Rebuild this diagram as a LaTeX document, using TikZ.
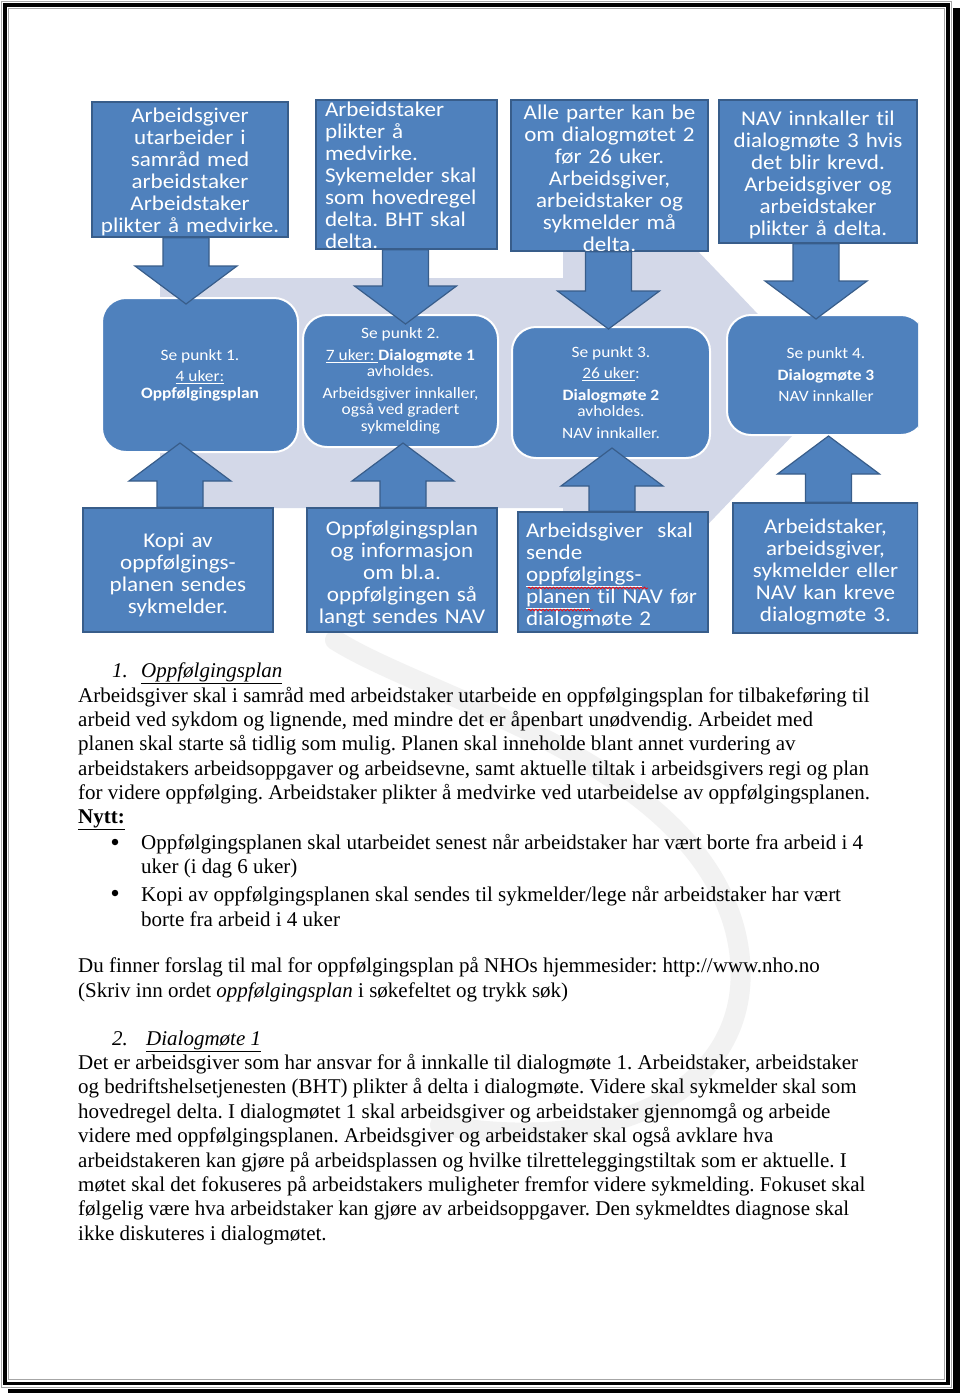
\documentclass[tikz,border=0pt]{standalone}
\usepackage{fontspec}
\setmainfont{Liberation Serif}
\newfontfamily\boxfont[FakeStretch=1.1, Ligatures=NoCommon]{Carlito}
\usetikzlibrary{calc,decorations.pathmorphing}
\definecolor{boxblue}{RGB}{79,129,189}
\definecolor{boxedge}{RGB}{56,93,138}
\definecolor{chevgray}{RGB}{211,216,232}
\frenchspacing
\newcommand\blkdown[2]{%
  \filldraw[blockarr] let \p1=(#1), \p2=(#2) in
    (\x2-23pt,\y1) -- (\x2+23pt,\y1) -- (\x2+23pt,\y2+38pt) -- (\x2+51pt,\y2+38pt)
    -- (\x2,\y2) -- (\x2-51pt,\y2+38pt) -- (\x2-23pt,\y2+38pt) -- cycle;}
\newcommand\blkup[2]{%
  \filldraw[blockarr] let \p1=(#1), \p2=(#2) in
    (\x2-23pt,\y1) -- (\x2+23pt,\y1) -- (\x2+23pt,\y2-38pt) -- (\x2+51pt,\y2-38pt)
    -- (\x2,\y2) -- (\x2-51pt,\y2-38pt) -- (\x2-23pt,\y2-38pt) -- cycle;}
\begin{document}
\begin{tikzpicture}[x=1pt,y=-1pt,
  bigtxt/.style={font=\boxfont\fontsize{21}{22}\selectfont, text=white, inner sep=0pt, align=center},
  midtxt/.style={font=\boxfont\fontsize{15.8}{16.5}\selectfont, text=white},
  sqbox/.style={draw=boxedge, line width=1.5pt, fill=boxblue, inner sep=0pt},
  rbox/.style={draw=white, line width=2pt, fill=boxblue, rounded corners=24pt, inner sep=0pt, align=center},
  blockarr/.style={fill=boxblue, draw=boxedge, line width=1.2pt, line join=miter},
  body/.style={font=\fontsize{21}{24.4}\selectfont, inner sep=0pt, anchor=west, align=left},
  bodyline/.style={font=\fontsize{21}{24.4}\selectfont, inner sep=0pt, anchor=base west},
  bulletdot/.style={circle, fill=black, inner sep=0pt, minimum size=6.5pt},
  redwave/.style={draw=red, line width=0.7pt, decorate, decoration={snake, amplitude=0.9pt, segment length=3.5pt}}
]
\useasboundingbox (0,0) rectangle (960,1393);
\fill[white] (0,0) rectangle (960,1393);

% faint watermark swoosh behind the text
\draw[black!5, line width=20pt, line cap=round]
  (335,640) .. controls (430,700) and (690,760) .. (735,930)
  .. controls (770,1070) and (640,1160) .. (440,1125);

% page border with shadow
\draw[gray!70, line width=0.8pt] (1,1) rectangle (951,1387);
\draw[black, line width=3.5pt] (4.8,4.8) rectangle (948,1383.5);
\draw[gray!70, line width=0.8pt] (8.5,8.5) rectangle (944,1379);
\fill[black] (953,8) rectangle (960,1393);
\fill[black] (8,1388.5) rectangle (960,1393);

\begin{scope}
\clip (80,97) rectangle (918,640);
% background chevron
\fill[chevgray] (160,278) -- (563,278) -- (563,248) -- (695,248) -- (833,393)
  -- (695,538) -- (563,538) -- (563,508) -- (160,508) -- cycle;

% top boxes
\node[sqbox, minimum width=196, minimum height=135] (T1) at (190,169.5) {};
\node[sqbox, minimum width=181, minimum height=149] (T2) at (406.5,174.5) {};
\node[sqbox, minimum width=197, minimum height=151] (T3) at (609.5,175.5) {};
\node[sqbox, minimum width=198, minimum height=143] (T4) at (818,171.5) {};
\node[bigtxt, text width=184] (T1t) at ($(T1.center)+(0,2)$)
  {Arbeidsgiver\\utarbeider i\\samråd med\\arbeidstaker\\Arbeidstaker\\plikter å medvirke.};
\node[bigtxt, text width=163, align=left] (T2t) at ($(T2.center)+(0,0.5)$)
  {Arbeidstaker\\plikter å\\medvirke.\\Sykemelder skal\\som hovedregel\\delta. BHT skal\\delta.};
\node[bigtxt, text width=185] (T3t) at ($(T3.center)+(0,3)$)
  {Alle parter kan be\\om dialogmøtet 2\\før 26 uker.\\Arbeidsgiver,\\arbeidstaker og\\sykmelder må\\delta.};
\node[bigtxt, text width=186] (T4t) at ($(T4.center)+(0,3.5)$)
  {NAV innkaller til\\dialogmøte 3 hvis\\det blir krevd.\\Arbeidsgiver og\\arbeidstaker\\plikter å delta.};

% middle rounded boxes
\node[rbox, midtxt, minimum width=196, minimum height=154] (M1) at (200,375)
  {Se punkt 1.\\[5pt]\underline{4 uker:}\\\textbf{Oppfølgingsplan}};
\node[rbox, midtxt, minimum width=195, minimum height=132] (M2) at (400.5,381)
  {Se punkt 2.\\[5pt]\underline{7 uker:\ }\textbf{Dialogmøte 1}\\avholdes.\\[5pt]Arbeidsgiver innkaller,\\også ved gradert\\sykmelding};
\node[rbox, midtxt, minimum width=198, minimum height=131] (M3) at (611,392.5)
  {Se punkt 3.\\[5pt]\underline{26 uker}:\\[5pt]\textbf{Dialogmøte 2}\\avholdes.\\[5pt]NAV innkaller.};
\node[rbox, midtxt, minimum width=198, minimum height=120] (M4) at (826,375)
  {Se punkt 4.\\[5pt]\textbf{Dialogmøte 3}\\[5pt]NAV innkaller};

% bottom boxes
\node[sqbox, minimum width=190, minimum height=124] (B1) at (178,570) {};
\node[sqbox, minimum width=190, minimum height=124] (B2) at (402,570) {};
\node[sqbox, minimum width=190, minimum height=120] (B3) at (613,572) {};
\node[sqbox, minimum width=185, minimum height=130] (B4) at (825.5,568) {};
\node[bigtxt, text width=178] (B1t) at ($(B1.center)+(0,5)$)
  {Kopi av\\oppfølgings-\\planen sendes\\sykmelder.};
\node[bigtxt, text width=178] (B2t) at ($(B2.center)+(0,4)$)
  {Oppfølgingsplan\\og informasjon\\om bl.a.\\oppfølgingen så\\langt sendes NAV};
\node[bigtxt, text width=174, align=left] (B3t) at ($(B3.center)+(0,4)$)
  {Arbeidsgiver\ \ skal\\sende\\\underline{oppfølgings-}\\\underline{planen} til NAV før\\dialogmøte 2};
\node[bigtxt, text width=173] (B4t) at ($(B4.center)+(0,4)$)
  {Arbeidstaker,\\arbeidsgiver,\\sykmelder eller\\NAV kan kreve\\dialogmøte 3.};
\draw[redwave] (528,588) -- (648,588);
\draw[redwave] (528,610) -- (593,610);

% block arrows
\blkdown{T1.south}{$(T1.south |- M1.north)+(-4,7)$}
\blkdown{T2.south}{$(T2.south |- M2.north)+(-1,10)$}
\blkdown{T3.south}{$(T3.south |- M3.north)+(-1,3)$}
\blkdown{T4.south}{$(T4.south |- M4.north)+(-2,5)$}
\blkup{B1.north}{$(B1.north |- M1.south)+(2,-10)$}
\blkup{B2.north}{$(B2.north |- M2.south)+(1,-5)$}
\blkup{B3.north}{$(B3.north |- M3.south)+(-1,-11)$}
\blkup{B4.north}{$(B4.north |- M4.south)+(3,0)$}
\end{scope}

% body text
\node[bodyline] (n1) at (112,677) {\textit{1.}};
\node[bodyline] (h1) at (141,677) {\textit{\underline{Oppfølgingsplan}}};
\node[body] (p1) at (78,745.5) {Arbeidsgiver skal i samråd med arbeidstaker utarbeide en oppfølgingsplan for tilbakeføring til\\
arbeid ved sykdom og lignende, med mindre det er åpenbart unødvendig. Arbeidet med\\
planen skal starte så tidlig som mulig. Planen skal inneholde blant annet vurdering av\\
arbeidstakers arbeidsoppgaver og arbeidsevne, samt aktuelle tiltak i arbeidsgivers regi og plan\\
for videre oppfølging. Arbeidstaker plikter å medvirke ved utarbeidelse av oppfølgingsplanen.};
\node[bodyline] (nytt) at (78,823.5) {\textbf{\underline{Nytt:}}};
\node[bulletdot] (bul1) at (115,842) {};
\node[body] (bt1) at (141,856) {Oppfølgingsplanen skal utarbeidet senest når arbeidstaker har vært borte fra arbeid i 4\\uker (i dag 6 uker)};
\node[bulletdot] (bul2) at (115,893) {};
\node[body] (bt2) at (141,906.5) {Kopi av oppfølgingsplanen skal sendes til sykmelder/lege når arbeidstaker har vært\\borte fra arbeid i 4 uker};
\node[body] (p2) at (78,979.5) {Du finner forslag til mal for oppfølgingsplan på NHOs hjemmesider: http://www.nho.no\\(Skriv inn ordet \textit{oppfølgingsplan} i søkefeltet og trykk søk)};
\node[bodyline] (n2) at (112,1045) {\textit{2.}};
\node[bodyline] (h2) at (146,1045) {\textit{\underline{Dialogmøte 1}}};
\node[body] (p3) at (78,1149.5) {Det er arbeidsgiver som har ansvar for å innkalle til dialogmøte 1. Arbeidstaker, arbeidstaker\\
og bedriftshelsetjenesten (BHT) plikter å delta i dialogmøte. Videre skal sykmelder skal som\\
hovedregel delta. I dialogmøtet 1 skal arbeidsgiver og arbeidstaker gjennomgå og arbeide\\
videre med oppfølgingsplanen. Arbeidsgiver og arbeidstaker skal også avklare hva\\
arbeidstakeren kan gjøre på arbeidsplassen og hvilke tilretteleggingstiltak som er aktuelle. I\\
møtet skal det fokuseres på arbeidstakers muligheter fremfor videre sykmelding. Fokuset skal\\
følgelig være hva arbeidstaker kan gjøre av arbeidsoppgaver. Den sykmeldtes diagnose skal\\
ikke diskuteres i dialogmøtet.};
\end{tikzpicture}
\end{document}
